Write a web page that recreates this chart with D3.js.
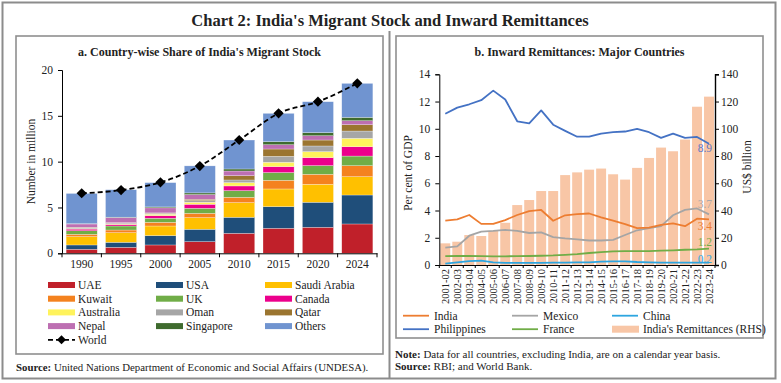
<!DOCTYPE html>
<html><head><meta charset="utf-8">
<script src="https://cdn.jsdelivr.net/npm/d3@7"></script>
<style>
body{margin:0;background:#fff}
text{font-family:"Liberation Serif","Times New Roman",serif;fill:#222}
</style>
</head><body>
<svg id="c" width="781" height="383"></svg>
<script>
// ---------- Panel a data (million) ----------
const years = ["1990","1995","2000","2005","2010","2015","2020","2024"];
const stackKeys = ["UAE","USA","Saudi Arabia","Kuwait","UK","Canada","Australia","Oman","Qatar","Nepal","Singapore","Others"];
const stackColors = ["#C0202A","#1F4E7A","#FFC000","#F4821F","#70AD47","#EC008C","#FFF35C","#A6A6A6","#9B7530","#BD6FB2","#3F6B2E","#7094D0"];
const uae       = [0.44,0.65,0.91,1.27,2.18,2.73,2.84,3.20];
const usa       = [0.47,0.55,1.02,1.35,1.75,2.36,2.73,3.16];
const saudi     = [0.91,1.05,1.05,1.27,1.60,1.93,1.96,2.00];
const kuwait    = [0.25,0.29,0.40,0.47,0.58,0.95,1.09,1.20];
const uk        = [0.39,0.44,0.44,0.55,0.73,0.84,0.95,1.05];
const canada    = [0.18,0.17,0.29,0.44,0.51,0.65,0.87,1.02];
const australia = [0.05,0.05,0.15,0.22,0.36,0.47,0.65,0.91];
const oman      = [0.10,0.10,0.10,0.18,0.29,0.65,0.62,0.80];
const qatar     = [0.05,0.05,0.05,0.15,0.47,0.80,0.65,0.69];
const nepal     = [0.36,0.55,0.55,0.51,0.51,0.47,0.47,0.44];
const singapore = [0.03,0.04,0.10,0.18,0.22,0.33,0.33,0.36];
const others    = [3.30,3.00,2.65,2.95,3.16,3.09,3.38,3.71];
const world     = [6.55,6.90,7.74,9.52,12.36,15.27,16.54,18.55];
const yTicksA   = [0,5,10,15,20];

// ---------- Panel b data ----------
const fyears = ["2001-02","2002-03","2003-04","2004-05","2005-06","2006-07","2007-08","2008-09","2009-10","2010-11","2011-12","2012-13","2013-14","2014-15","2015-16","2016-17","2017-18","2018-19","2019-20","2020-21","2021-22","2022-23","2023-24"];
const remit       = [15.9,17.1,22.0,21.3,25.0,31.0,44.0,47.7,54.3,54.3,66.0,68.0,70.0,70.8,66.6,62.7,71.3,78.6,86.2,83.5,92.1,116.2,123.6];
const india       = [3.25,3.35,3.67,3.02,3.02,3.30,3.67,3.96,4.04,3.25,3.65,3.74,3.78,3.50,3.25,3.00,2.70,2.75,2.95,3.05,2.85,3.40,3.35];
const philippines = [11.1,11.55,11.8,12.1,12.8,12.15,10.55,10.4,11.35,10.3,9.85,9.42,9.42,9.65,9.75,9.8,10.0,9.75,9.33,9.65,9.33,9.4,8.9];
const mexico      = [1.27,1.37,2.15,2.45,2.50,2.58,2.50,2.35,2.40,2.05,1.95,1.88,1.80,1.80,1.85,2.20,2.55,2.70,2.85,3.65,4.05,4.15,3.72];
const china       = [0.10,0.20,0.28,0.32,0.20,0.15,0.15,0.15,0.16,0.17,0.18,0.19,0.20,0.25,0.27,0.27,0.22,0.20,0.18,0.18,0.18,0.18,0.18];
const france      = [0.65,0.66,0.66,0.65,0.64,0.64,0.65,0.66,0.68,0.70,0.75,0.80,0.88,0.95,1.00,1.02,1.02,1.02,1.05,1.08,1.12,1.15,1.20];
const yTicksL = [0,2,4,6,8,10,12,14];
const yTicksR = [0,20,40,60,80,100,120,140];

const svg = d3.select("#c");

// ---------- Frames ----------
svg.append("rect").attr("x",2.5).attr("y",2.5).attr("width",773).attr("height",376)
  .attr("fill","none").attr("stroke","#8c8c8c").attr("stroke-width",2);
svg.append("line").attr("x1",389.5).attr("x2",389.5).attr("y1",31).attr("y2",378)
  .attr("stroke","#8c8c8c").attr("stroke-width",2);
svg.append("rect").attr("x",16).attr("y",36).attr("width",367).attr("height",318)
  .attr("fill","none").attr("stroke","#8f8f8f").attr("stroke-width",1.6);
svg.append("rect").attr("x",396).attr("y",36).attr("width",367).attr("height",302)
  .attr("fill","none").attr("stroke","#8f8f8f").attr("stroke-width",1.6);

svg.append("text").attr("x",390).attr("y",26).attr("text-anchor","middle")
  .style("font-size","16.5px").style("font-weight","bold").text("Chart 2: India's Migrant Stock and Inward Remittances");
svg.append("text").attr("x",199.5).attr("y",55.5).attr("text-anchor","middle")
  .style("font-size","12px").style("font-weight","bold").text("a. Country-wise Share of India's Migrant Stock");
svg.append("text").attr("x",579.5).attr("y",55.5).attr("text-anchor","middle")
  .style("font-size","12px").style("font-weight","bold").text("b. Inward Remittances: Major Countries");

// ---------- Panel a ----------
const xa = d3.scaleBand().domain(years).range([62,377]).paddingInner(0.21).paddingOuter(0.105);
const ya = d3.scaleLinear().domain([0,20]).range([253.3,70]);
const series = [uae,usa,saudi,kuwait,uk,canada,australia,oman,qatar,nepal,singapore,others];
const rows = years.map((y,i)=>{const o={year:y}; stackKeys.forEach((k,j)=>o[k]=series[j][i]); return o;});
const stacked = d3.stack().keys(stackKeys)(rows);
const ga = svg.append("g");
ga.selectAll("g.s").data(stacked).join("g").attr("fill",(d,i)=>stackColors[i])
  .selectAll("rect").data(d=>d).join("rect")
  .attr("x",d=>xa(d.data.year)).attr("width",xa.bandwidth())
  .attr("y",d=>ya(d[1])).attr("height",d=>ya(d[0])-ya(d[1]))
  .attr("stroke","#ffffff").attr("stroke-opacity",0.55).attr("stroke-width",0.5);

// axes
const axA = ga.append("g").attr("transform","translate(62,0)")
  .call(d3.axisLeft(ya).tickValues(yTicksA).tickSize(4).tickPadding(5));
axA.selectAll("text").style("font-size","11.5px").style("font-family","Liberation Serif");
axA.select(".domain").attr("stroke","#000");
const axAx = ga.append("g").attr("transform","translate(0,253.3)")
  .call(d3.axisBottom(xa).tickSize(0).tickPadding(7));
axAx.select(".domain").attr("stroke","#000");
axAx.selectAll("text").style("font-size","11.5px").style("font-family","Liberation Serif");
const stepA = xa.step();
ga.selectAll("line.bt").data(years.concat(["end"])).join("line")
  .attr("x1",(d,i)=>62+i*stepA).attr("x2",(d,i)=>62+i*stepA)
  .attr("y1",253.3).attr("y2",257.3).attr("stroke","#000");
ga.append("text").attr("transform","translate(35,161.5) rotate(-90)").attr("text-anchor","middle")
  .style("font-size","11.5px").text("Number in million");

// world line
const wline = d3.line().x((d,i)=>xa(years[i])+xa.bandwidth()/2).y(d=>ya(d)).curve(d3.curveMonotoneX);
ga.append("path").datum(world).attr("d",wline).attr("fill","none").attr("stroke","#000")
  .attr("stroke-width",1.8).attr("stroke-dasharray","5,3");
ga.selectAll("path.dm").data(world).join("path")
  .attr("d",d3.symbol(d3.symbolSquare,52))
  .attr("transform",(d,i)=>`translate(${xa(years[i])+xa.bandwidth()/2},${ya(d)}) rotate(45)`)
  .attr("fill","#000");

// legend a
const legA = svg.append("g");
const colX = [48,156,265];
stackKeys.forEach((k,i)=>{
  const r = Math.floor(i/3), c = i%3, y = 285 + r*13.7;
  legA.append("rect").attr("x",colX[c]).attr("y",y-3).attr("width",27).attr("height",6).attr("fill",stackColors[i]);
  legA.append("text").attr("x",colX[c]+30).attr("y",y+4).style("font-size","11.5px").text(k);
});
{
  const y = 285 + 4*13.7;
  legA.append("line").attr("x1",48).attr("x2",75).attr("y1",y).attr("y2",y)
    .attr("stroke","#000").attr("stroke-width",1.8).attr("stroke-dasharray","5,3");
  legA.append("path").attr("d",d3.symbol(d3.symbolSquare,40)).attr("transform",`translate(61.5,${y}) rotate(45)`).attr("fill","#000");
  legA.append("text").attr("x",78).attr("y",y+4).style("font-size","11.5px").text("World");
}
const srcA = svg.append("text").attr("x",16).attr("y",370.5).style("font-size","10.8px");
srcA.append("tspan").style("font-weight","bold").text("Source:");
srcA.append("tspan").text(" United Nations Department of Economic and Social Affairs (UNDESA).");

// ---------- Panel b ----------
const xb = d3.scaleBand().domain(fyears).range([439.3,715]).paddingInner(0.17).paddingOuter(0.085);
const yl = d3.scaleLinear().domain([0,14]).range([265,74.3]);
const yr = d3.scaleLinear().domain([0,140]).range([265,74.3]);
const gb = svg.append("g");
gb.selectAll("rect.rm").data(remit).join("rect")
  .attr("x",(d,i)=>xb(fyears[i])).attr("width",xb.bandwidth())
  .attr("y",d=>yr(d)).attr("height",d=>yr(0)-yr(d)).attr("fill","#F8C6A6");

const lineDefs = [
  {name:"India",data:india,color:"#ED7D31"},
  {name:"Mexico",data:mexico,color:"#A5A5A5"},
  {name:"China",data:china,color:"#2EA6E0"},
  {name:"Philippines",data:philippines,color:"#4472C4"},
  {name:"France",data:france,color:"#70AD47"}
];
const lb = d3.line().x((d,i)=>xb(fyears[i])+xb.bandwidth()/2).y(d=>yl(d));
["France","China","Mexico","India","Philippines"].forEach(n=>{
  const L = lineDefs.find(l=>l.name===n);
  gb.append("path").datum(L.data).attr("d",lb).attr("fill","none")
    .attr("stroke",L.color).attr("stroke-width",1.8).attr("stroke-linejoin","round");
});

const axL = gb.append("g").attr("transform","translate(439.3,0)")
  .call(d3.axisLeft(yl).tickValues(yTicksL).tickSize(4).tickPadding(5));
axL.select(".domain").attr("stroke","#000");
axL.selectAll("text").style("font-size","11.5px").style("font-family","Liberation Serif");
const axR = gb.append("g").attr("transform","translate(715,0)")
  .call(d3.axisRight(yr).tickValues(yTicksR).tickSize(4).tickPadding(2));
axR.select(".domain").attr("stroke","#000").attr("stroke-width",1.4);
axR.selectAll("text").style("font-size","11.5px").style("font-family","Liberation Serif");
const axB = gb.append("g").attr("transform","translate(0,265)")
  .call(d3.axisBottom(xb).tickSize(0).tickPadding(4));
axB.select(".domain").attr("stroke","#000");
axB.selectAll("text").attr("transform","rotate(-90)").attr("text-anchor","end")
  .attr("x",-4).attr("y",0).attr("dy","0.35em")
  .style("font-size","10.5px").style("font-family","Liberation Serif");
const stepB = xb.step();
gb.selectAll("line.bt").data(fyears.concat(["end"])).join("line")
  .attr("x1",(d,i)=>439.3+i*stepB).attr("x2",(d,i)=>439.3+i*stepB)
  .attr("y1",265).attr("y2",268).attr("stroke","#000");

gb.append("text").attr("transform","translate(412,173) rotate(-90)").attr("text-anchor","middle")
  .style("font-size","11.5px").text("Per cent of GDP");
gb.append("text").attr("transform","translate(751,167) rotate(-90)").attr("text-anchor","middle")
  .style("font-size","11.5px").text("US$ billion");

// end labels
const last = fyears.length-1;
const endLabels = [
  {data:philippines,color:"#5F76C4",dy:8},
  {data:mexico,color:"#A8A8A8",dy:-6},
  {data:india,color:"#ED7D31",dy:11},
  {data:france,color:"#70AD47",dy:-3},
  {data:china,color:"#2EA6E0",dy:0}
];
endLabels.forEach(e=>{
  gb.append("text").attr("x",712).attr("y",yl(e.data[last])+e.dy).attr("text-anchor","end")
    .style("font-size","11.5px").style("fill",e.color).text(d3.format(".1f")(e.data[last]));
});

// legend b
const legB = svg.append("g");
const lcols = [403,512,612];
const legItems = [
  {name:"India",color:"#ED7D31",type:"line"},
  {name:"Mexico",color:"#A5A5A5",type:"line"},
  {name:"China",color:"#2EA6E0",type:"line"},
  {name:"Philippines",color:"#4472C4",type:"line"},
  {name:"France",color:"#70AD47",type:"line"},
  {name:"India's Remittances (RHS)",color:"#F8C6A6",type:"bar"}
];
legItems.forEach((it,i)=>{
  const r=Math.floor(i/3), c=i%3, y=315.7+r*13.5, x=lcols[c];
  if(it.type==="line") legB.append("line").attr("x1",x).attr("x2",x+26).attr("y1",y).attr("y2",y).attr("stroke",it.color).attr("stroke-width",1.8);
  else legB.append("rect").attr("x",x).attr("y",y-3.5).attr("width",27).attr("height",7).attr("fill",it.color);
  legB.append("text").attr("x",x+31).attr("y",y+4).style("font-size","11.5px").text(it.name);
});

const note = svg.append("text").attr("x",395).attr("y",357.5).style("font-size","11px");
note.append("tspan").style("font-weight","bold").text("Note:");
note.append("tspan").text(" Data for all countries, excluding India, are on a calendar year basis.");
const srcB = svg.append("text").attr("x",395).attr("y",369.5).style("font-size","11px");
srcB.append("tspan").style("font-weight","bold").text("Source:");
srcB.append("tspan").text(" RBI; and World Bank.");
</script>
</body></html>
